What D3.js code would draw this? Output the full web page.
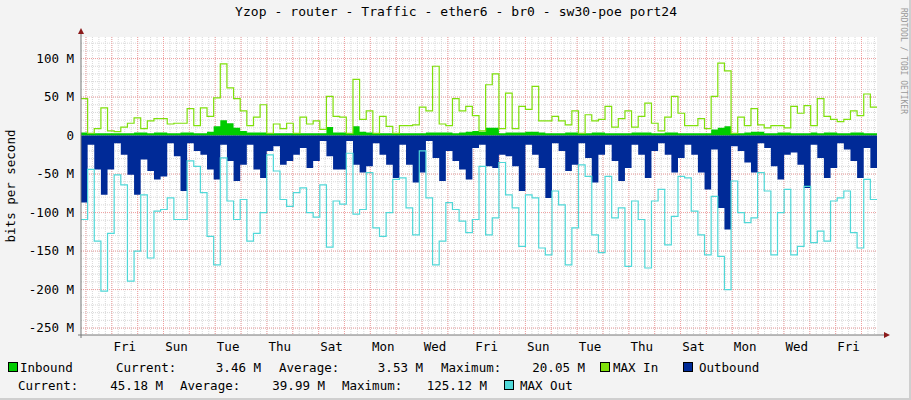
<!DOCTYPE html>
<html>
<head>
<meta charset="utf-8">
<script src="https://cdn.jsdelivr.net/npm/d3@7"></script>
<style>
  body { margin: 0; background: #f3f3f3; }
  text { font-family: "DejaVu Sans Mono", monospace; fill: #000; }
</style>
</head>
<body>
<div id="chart"></div>
<script>
// values in Mbit/s, one sample per step
const inbound = [4,3,3,3,3,3,3,3,4,4,3,4,4,3,3,4,4,3,3,5,12,20,16,10,6,4,4,4,3,3,3,
  3,3,3,3,3,3,11,4,4,3,12,5,4,3,3,3,3,3,3,3,3,4,4,4,4,3,4,5,6,5,10,
  10,3,4,4,4,5,5,4,3,3,3,4,4,3,3,4,4,3,3,3,3,4,4,4,3,3,4,4,3,
  3,3,3,3,8,10,12,3,3,4,5,5,3,3,4,4,3,3,3,4,3,4,4,3,3,4,4,3,3];
const maxIn = [48,3,9,36,6,5,11,16,23,9,19,22,22,15,16,16,35,13,36,25,49,93,62,48,32,13,24,40,3,15,9,
  16,3,24,15,19,8,51,25,24,3,73,21,32,3,25,12,3,13,13,14,37,32,90,15,13,48,32,38,26,6,66,
  80,9,55,9,38,34,64,19,19,25,19,14,32,3,27,19,21,38,11,22,32,11,25,42,16,6,24,51,29,
  13,13,22,9,51,94,84,3,24,13,35,14,10,13,13,10,38,29,39,13,48,25,21,18,21,32,26,54,37];
const outbound = [87,12,44,77,44,10,25,51,77,31,46,57,53,10,27,72,10,20,25,44,57,12,33,59,38,12,44,55,20,14,38,
  33,25,16,42,33,7,27,44,44,7,38,48,40,10,25,38,55,12,38,61,48,7,29,59,20,33,44,57,16,12,40,
  42,25,27,40,72,12,25,42,81,10,20,46,38,10,29,61,25,12,33,59,42,12,25,55,20,10,25,48,29,
  12,25,48,70,18,94,122,14,20,35,48,10,16,40,57,25,22,38,68,12,29,55,42,10,18,33,55,16,42];
const maxOut = [109,44,137,202,127,51,64,189,150,77,159,98,96,81,109,109,33,40,74,131,168,29,85,109,83,137,127,100,25,46,83,
  92,74,68,100,106,64,145,85,89,23,102,96,48,120,131,100,57,55,94,129,20,81,168,137,87,96,111,126,109,40,129,
  107,35,77,94,144,77,81,146,155,72,90,168,120,38,53,129,152,53,107,94,170,85,109,172,85,70,142,105,53,
  55,98,129,155,79,157,200,59,100,113,107,48,72,155,100,70,155,144,66,139,124,137,85,81,72,126,146,57,83];
const dayLabels = ['Fri','Sun','Tue','Thu','Sat','Mon','Wed','Fri','Sun','Tue','Thu','Sat','Mon','Wed','Fri'];
const yTicks = [100,50,0,-50,-100,-150,-200,-250];

const W = 911, H = 400;
const plot = { left: 81, right: 877, top: 37, bottom: 335 };
const totalHours = 739, firstMidnight = 4.6;
const stepHours = totalHours / inbound.length;

const svg = d3.select('#chart').append('svg').attr('width', W).attr('height', H);
svg.append('rect').attr('width', W).attr('height', H).attr('fill', '#f3f3f3');
svg.append('rect').attr('x', W - 2).attr('width', 2).attr('height', H).attr('fill', '#cfcfcf');
svg.append('rect').attr('y', H - 2).attr('width', W).attr('height', 2).attr('fill', '#cfcfcf');

const x = d3.scaleLinear().domain([0, totalHours]).range([plot.left, plot.right]);
const y = d3.scaleLinear().domain([-259, 128]).range([plot.bottom, plot.top]);

svg.append('rect').attr('x', plot.left).attr('y', plot.top)
  .attr('width', plot.right - plot.left).attr('height', plot.bottom - plot.top).attr('fill', '#fff');

const g = svg.append('g');
// minor grid
for (let h = firstMidnight % 6; h <= totalHours; h += 6) {
  g.append('line').attr('x1', x(h)).attr('x2', x(h)).attr('y1', plot.top).attr('y2', plot.bottom)
    .attr('stroke', '#d8d8d8').attr('stroke-dasharray', '1,1');
}
for (let v = -250; v <= 120; v += 10) {
  g.append('line').attr('x1', plot.left).attr('x2', plot.right).attr('y1', y(v)).attr('y2', y(v))
    .attr('stroke', '#d8d8d8').attr('stroke-dasharray', '1,1');
}
// major grid
for (let h = firstMidnight; h <= totalHours; h += 24) {
  g.append('line').attr('x1', x(h)).attr('x2', x(h)).attr('y1', plot.top).attr('y2', plot.bottom)
    .attr('stroke', '#f0a0a0').attr('stroke-dasharray', '1,1');
}
yTicks.forEach(v => {
  g.append('line').attr('x1', plot.left).attr('x2', plot.right).attr('y1', y(v)).attr('y2', y(v))
    .attr('stroke', '#f0a0a0').attr('stroke-dasharray', '1,1');
});

const pts = arr => arr.map((v, i) => [i * stepHours, v]).concat([[totalHours, arr[arr.length - 1]]]);
const area = d3.area().curve(d3.curveStepAfter).x(d => x(d[0])).y0(y(0)).y1(d => y(d[1]));
const line = d3.line().curve(d3.curveStepAfter).x(d => x(d[0])).y(d => y(d[1]));

svg.append('path').attr('d', area(pts(inbound))).attr('fill', '#00cc00');
svg.append('path').attr('d', line(pts(maxIn))).attr('fill', 'none').attr('stroke', '#7fe00b').attr('stroke-width', 1.2);
svg.append('path').attr('d', area(pts(outbound.map(v => -v)))).attr('fill', '#002a97');
svg.append('path').attr('d', line(pts(maxOut.map(v => -v)))).attr('fill', 'none').attr('stroke', '#50d8d8').attr('stroke-width', 1.2);

// axes
svg.append('line').attr('x1', plot.left).attr('x2', plot.left).attr('y1', 30).attr('y2', plot.bottom + 3).attr('stroke', '#777');
svg.append('line').attr('x1', plot.left - 3).attr('x2', 884).attr('y1', plot.bottom).attr('y2', plot.bottom).attr('stroke', '#777');
svg.append('path').attr('d', `M${plot.left - 3},34 L${plot.left + 3},34 L${plot.left},28 Z`).attr('fill', '#8b1a1a');
svg.append('path').attr('d', `M884,${plot.bottom - 3} L884,${plot.bottom + 3} L890,${plot.bottom} Z`).attr('fill', '#8b1a1a');

yTicks.forEach(v => {
  svg.append('text').attr('x', 74).attr('y', y(v) + 4).attr('text-anchor', 'end').attr('font-size', 12.5)
    .text(v === 0 ? '0' : `${v} M`);
});
dayLabels.forEach((d, i) => {
  svg.append('text').attr('x', x(firstMidnight + 36 + i * 48)).attr('y', 351).attr('text-anchor', 'middle')
    .attr('font-size', 12.5).text(d);
});

svg.append('text').attr('x', 456).attr('y', 16).attr('text-anchor', 'middle').attr('font-size', 13)
  .attr('textLength', 442).text('Yzop - router - Traffic - ether6 - br0 - sw30-poe port24');
svg.append('text').attr('transform', 'translate(15,186) rotate(-90)').attr('text-anchor', 'middle')
  .attr('font-size', 12.5).text('bits per second');
svg.append('text').attr('transform', 'translate(901,8) rotate(90)').attr('font-size', 8)
  .style('fill', '#999').text('RRDTOOL / TOBI OETIKER');

// legend
const fs = 12.5;
function swatch(xp, yp, color) {
  svg.append('rect').attr('x', xp + 0.5).attr('y', yp - 9.5).attr('width', 9).attr('height', 9)
    .attr('fill', color).attr('stroke', '#000');
}
function txt(xp, yp, s, anchor) {
  svg.append('text').attr('x', xp).attr('y', yp).attr('font-size', fs).attr('text-anchor', anchor || 'start').text(s);
}
const r1 = 372, r2 = 390;
swatch(8, r1, '#00cc00'); txt(20, r1, 'Inbound');
txt(116, r1, 'Current:'); txt(261, r1, '3.46 M', 'end');
txt(279, r1, 'Average:'); txt(423, r1, '3.53 M', 'end');
txt(441, r1, 'Maximum:'); txt(585, r1, '20.05 M', 'end');
swatch(600, r1, '#7fe00b'); txt(613, r1, 'MAX In');
swatch(683, r1, '#002a97'); txt(699, r1, 'Outbound');
txt(18, r2, 'Current:'); txt(163, r2, '45.18 M', 'end');
txt(180, r2, 'Average:'); txt(325, r2, '39.99 M', 'end');
txt(342, r2, 'Maximum:'); txt(487, r2, '125.12 M', 'end');
swatch(504, r2, '#50d8d8'); txt(520, r2, 'MAX Out');
</script>
</body>
</html>
